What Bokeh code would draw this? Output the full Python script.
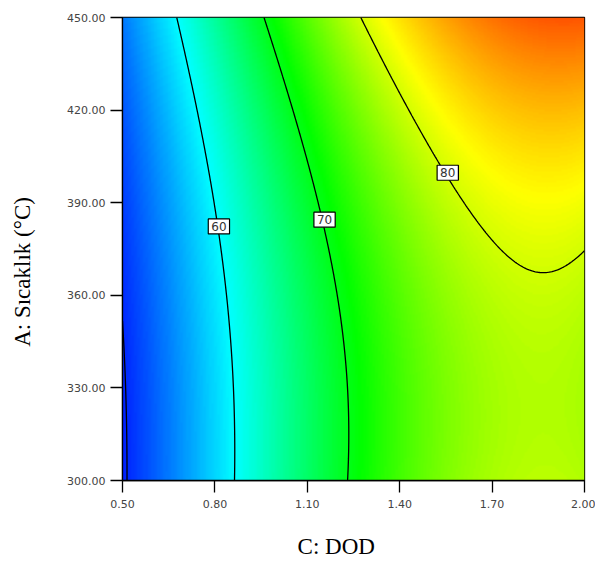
import numpy as np
from bokeh.plotting import figure
from bokeh.models import LinearColorMapper, Label, FixedTicker
from bokeh.embed import file_html
from bokeh.resources import INLINE

# ---- values: contour crossings (DOD, temperature) per level ----
c50_dod = [0.501, 0.512, 0.515]
c50_temp = [347.5, 322.7, 301.0]
c60_dod = [0.672, 0.710, 0.753, 0.791, 0.813, 0.834, 0.856, 0.861, 0.863]
c60_temp = [450.0, 430.7, 409.1, 391.8, 382.3, 365.9, 344.3, 333.5, 301.0]
c70_dod = [0.961, 1.024, 1.089, 1.138, 1.156, 1.186, 1.213, 1.230, 1.230]
c70_temp = [450.0, 430.7, 409.1, 391.8, 384.5, 365.9, 344.3, 322.7, 300.0]
c80_dod = [1.267, 1.348, 1.435, 1.511, 1.556, 1.619, 1.695, 1.782, 1.852, 1.933, 1.998]
c80_temp = [450.0, 436.1, 419.9, 404.7, 399.7, 387.5, 376.7, 369.1, 366.4, 369.1, 375.1]
# corner responses estimated from the colour of the map
corner_dod = [0.5, 2.0, 2.0]
corner_temp = [450.0, 300.0, 450.0]
corner_val = [53.5, 78.5, 90.5]

contour_levels = [50, 60, 70, 80]
label_text = ["60", "70", "80"]
label_dod = [0.813, 1.156, 1.556]
label_temp = [382.3, 384.5, 399.7]

x_ticks = [0.50, 0.80, 1.10, 1.40, 1.70, 2.00]
y_ticks = [300.0, 330.0, 360.0, 390.0, 420.0, 450.0]
x_title = "C: DOD"
y_title = "A: Sıcaklık (°C)"

# ---- cubic response surface fitted to the read points ----
pts_x = np.array(c50_dod + c60_dod + c70_dod + c80_dod + corner_dod)
pts_y = np.array(c50_temp + c60_temp + c70_temp + c80_temp + corner_temp)
pts_z = np.array([50.0] * len(c50_dod) + [60.0] * len(c60_dod) + [70.0] * len(c70_dod)
                 + [80.0] * len(c80_dod) + corner_val)


def design(x, y):
    X = (x - 1.25) / 0.75
    Y = (y - 375.0) / 75.0
    return np.stack([np.ones_like(X), X, Y, X * Y, X * X, Y * Y,
                     X * X * Y, X * Y * Y, X ** 3, Y ** 3], axis=-1)


coef, *_ = np.linalg.lstsq(design(pts_x, pts_y), pts_z, rcond=None)

gx = np.linspace(0.5, 2.0, 301)
gy = np.linspace(300.0, 450.0, 301)
GX, GY = np.meshgrid(gx, gy)
Z = design(GX, GY) @ coef

# ---- palette blue-cyan-green-yellow-red ----
stops = [48.0, 60.0, 71.0, 82.0, 95.0]
anchors = [(0, 0, 255), (0, 255, 255), (0, 255, 0), (255, 255, 0), (255, 0, 0)]
palette = []
for i in range(256):
    v = stops[0] + (stops[-1] - stops[0]) * i / 255
    k = min(max(np.searchsorted(stops, v) - 1, 0), 3)
    f = (v - stops[k]) / (stops[k + 1] - stops[k])
    a, b = anchors[k], anchors[k + 1]
    c = [int(round(a[j] + (b[j] - a[j]) * f)) for j in range(3)]
    palette.append("#%02x%02x%02x" % tuple(c))
mapper = LinearColorMapper(palette=palette, low=stops[0], high=stops[-1])

p = figure(width=595, height=562, x_range=(0.5, 2.0), y_range=(300, 450),
           output_backend="svg", toolbar_location=None,
           min_border_left=122, min_border_right=11, min_border_top=17, min_border_bottom=82)

p.image(image=[Z], x=0.5, y=300, dw=1.5, dh=150, color_mapper=mapper)
p.contour(x=gx, y=gy, z=Z, levels=contour_levels, line_color="black", line_width=1.3)

for t, lx, ly in zip(label_text, label_dod, label_temp):
    p.add_layout(Label(x=lx, y=ly, text=t, text_align="center", text_baseline="middle",
                       text_font="DejaVu Sans", text_font_size="12px", text_color="#333333",
                       background_fill_color="white", border_line_color="black", border_line_width=1.2,
                       padding=3))

p.grid.visible = False
p.outline_line_color = "black"
p.outline_line_width = 1.3
for ax in (p.xaxis[0], p.yaxis[0]):
    ax.axis_line_color = "black"
    ax.axis_line_width = 1.3
    ax.major_tick_line_color = "black"
    ax.major_tick_line_width = 1.3
    ax.major_tick_out = 12
    ax.major_tick_in = 0
    ax.minor_tick_line_color = None
    ax.major_label_text_font = "DejaVu Sans"
    ax.major_label_text_font_size = "11px"
    ax.major_label_text_color = "#444444"
    ax.axis_label_text_font = "Liberation Serif"
    ax.axis_label_text_font_size = "23px"
    ax.axis_label_text_font_style = "normal"
    ax.axis_label_text_color = "black"
p.xaxis[0].ticker = FixedTicker(ticks=x_ticks)
p.yaxis[0].ticker = FixedTicker(ticks=y_ticks)
p.xaxis[0].major_label_overrides = {v: "%.2f" % v for v in x_ticks}
p.yaxis[0].major_label_overrides = {v: "%.2f" % v for v in y_ticks}
p.xaxis[0].major_label_standoff = 7
p.yaxis[0].major_label_standoff = 5

# non-breaking spaces shift the centred titles the way they sit in the reference
p.xaxis[0].axis_label = x_title + "\u00a0" * 6
p.yaxis[0].axis_label = y_title + "\u00a0" * 8
p.xaxis[0].axis_label_standoff = 23
p.yaxis[0].axis_label_standoff = 29

open("out.html", "w").write(file_html(p, INLINE))
